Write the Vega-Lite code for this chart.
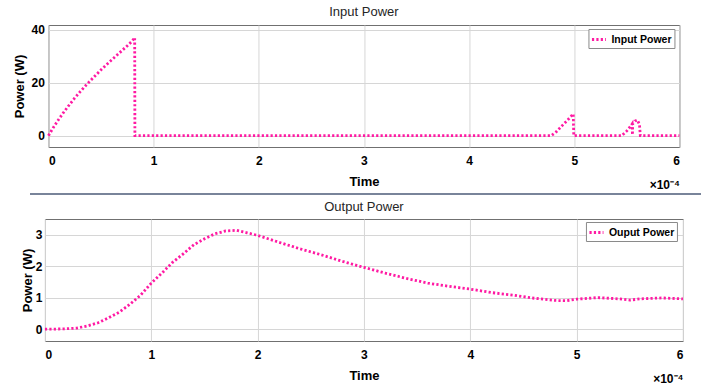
{
  "$schema": "https://vega.github.io/schema/vega-lite/v6.json",
  "background": "white",
  "padding": {"left": 12, "top": 5, "right": 0, "bottom": 0},
  "spacing": 0,
  "center": true,
  "resolve": {"scale": {"color": "independent"}, "legend": {"color": "independent"}},
  "config": {
    "font": "Liberation Sans",
    "view": {"stroke": "#707070", "strokeWidth": 1},
    "axis": {
      "labelFont": "Liberation Sans",
      "labelFontSize": 12,
      "labelFontWeight": "bold",
      "labelColor": "#000000",
      "titleFont": "Liberation Sans",
      "titleFontSize": 13,
      "titleFontWeight": "bold",
      "titleColor": "#000000",
      "gridColor": "#d6d6d6",
      "gridWidth": 1,
      "ticks": false,
      "domain": false,
      "labelPadding": 4
    },
    "axisX": {"labelPadding": 8, "titlePadding": 9},
    "axisY": {"titlePadding": 5},
    "legend": {
      "orient": "none",
      "fillColor": "white",
      "strokeColor": "#8a8a8a",
      "padding": 2,
      "symbolType": "stroke",
      "symbolStrokeWidth": 2.8,
      "symbolDash": [2.2, 2.2],
      "symbolSize": 196,
      "labelFont": "Liberation Sans",
      "labelFontSize": 10.5,
      "labelFontWeight": "bold",
      "labelColor": "#000000",
      "labelOffset": 4
    },
    "title": {"font": "Liberation Sans", "fontSize": 13, "fontWeight": "normal", "color": "#262626", "offset": 5}
  },
  "datasets": {
    "input": [
      {"t": 0, "p": 0}, {"t": 0.05, "p": 3.3}, {"t": 0.1, "p": 6.3}, {"t": 0.15, "p": 9.1},
      {"t": 0.2, "p": 11.7}, {"t": 0.25, "p": 14.2}, {"t": 0.3, "p": 16.5}, {"t": 0.35, "p": 18.7},
      {"t": 0.4, "p": 20.8}, {"t": 0.45, "p": 22.8}, {"t": 0.5, "p": 24.8}, {"t": 0.55, "p": 26.7},
      {"t": 0.6, "p": 28.5}, {"t": 0.65, "p": 30.3}, {"t": 0.7, "p": 32.1}, {"t": 0.75, "p": 33.9},
      {"t": 0.8, "p": 35.8}, {"t": 0.82, "p": 37}, {"t": 0.822, "p": 0}, {"t": 4.78, "p": 0},
      {"t": 4.83, "p": 1.5}, {"t": 4.88, "p": 3.6}, {"t": 4.93, "p": 5.6}, {"t": 4.99, "p": 8.2},
      {"t": 4.995, "p": 0}, {"t": 5.45, "p": 0}, {"t": 5.5, "p": 1.8}, {"t": 5.54, "p": 3.8},
      {"t": 5.55, "p": 4.4}, {"t": 5.553, "p": 0.3}, {"t": 5.556, "p": 4.6}, {"t": 5.58, "p": 5.6},
      {"t": 5.6, "p": 5.9}, {"t": 5.62, "p": 4.2}, {"t": 5.628, "p": 0}, {"t": 6, "p": 0}
    ],
    "output": [
      {"t": 0, "p": 0}, {"t": 0.1, "p": 0}, {"t": 0.2, "p": 0.01}, {"t": 0.3, "p": 0.03},
      {"t": 0.4, "p": 0.1}, {"t": 0.5, "p": 0.2}, {"t": 0.6, "p": 0.36}, {"t": 0.7, "p": 0.54},
      {"t": 0.8, "p": 0.79}, {"t": 0.9, "p": 1.08}, {"t": 1.0, "p": 1.46}, {"t": 1.1, "p": 1.78},
      {"t": 1.2, "p": 2.12}, {"t": 1.3, "p": 2.39}, {"t": 1.4, "p": 2.68}, {"t": 1.5, "p": 2.87},
      {"t": 1.6, "p": 3.03}, {"t": 1.7, "p": 3.12}, {"t": 1.8, "p": 3.14}, {"t": 1.9, "p": 3.06},
      {"t": 2.0, "p": 2.98}, {"t": 2.2, "p": 2.76}, {"t": 2.4, "p": 2.55}, {"t": 2.6, "p": 2.36},
      {"t": 2.8, "p": 2.15}, {"t": 3.0, "p": 1.96}, {"t": 3.2, "p": 1.78}, {"t": 3.4, "p": 1.61},
      {"t": 3.6, "p": 1.46}, {"t": 3.8, "p": 1.36}, {"t": 4.0, "p": 1.27}, {"t": 4.2, "p": 1.16},
      {"t": 4.4, "p": 1.08}, {"t": 4.6, "p": 0.98}, {"t": 4.8, "p": 0.91}, {"t": 4.9, "p": 0.9},
      {"t": 5.0, "p": 0.95}, {"t": 5.2, "p": 1.0}, {"t": 5.4, "p": 0.96}, {"t": 5.5, "p": 0.92},
      {"t": 5.6, "p": 0.96}, {"t": 5.8, "p": 0.99}, {"t": 6.0, "p": 0.96}
    ],
    "separator": [{"p": 0}, {"p": 1}]
  },
  "vconcat": [
    {
      "width": 631,
      "height": 122,
      "title": {"text": "Input Power"},
      "data": {"name": "input"},
      "layer": [
        {
          "mark": {"type": "line", "strokeDash": [2.2, 2.2], "strokeWidth": 2.8, "strokeCap": "butt"},
          "encoding": {
            "x": {"field": "t", "type": "quantitative", "scale": {"domain": [0, 6], "nice": false},
                  "axis": {"title": "Time", "values": [0, 1, 2, 3, 4, 5, 6]}},
            "y": {"field": "p", "type": "quantitative", "scale": {"domain": [-4.26, 41.7], "nice": false, "zero": false},
                  "axis": {"title": "Power (W)", "values": [0, 20, 40]}},
            "color": {"datum": "Input Power", "scale": {"range": ["#ff1aa3"]},
                      "legend": {"title": null, "legendX": 540, "legendY": 4}}
          }
        },
        {
          "mark": {"type": "line", "opacity": 0},
          "encoding": {
            "x": {"field": "t", "type": "quantitative", "scale": {"domain": [0, 6], "nice": false},
                  "axis": {"orient": "bottom", "title": "×10⁻⁴", "labels": false, "grid": false,
                           "titleAnchor": "end", "titlePadding": 32, "titleFontSize": 12}},
            "y": {"field": "p", "type": "quantitative"}
          }
        }
      ],
      "resolve": {"axis": {"x": "independent"}}
    },
    {
      "width": 671,
      "height": 6,
      "view": {"stroke": null},
      "data": {"name": "separator"},
      "mark": {"type": "line", "color": "#4d5b78", "strokeWidth": 1.5},
      "encoding": {
        "x": {"field": "p", "type": "quantitative", "scale": {"domain": [0, 1], "nice": false}, "axis": null},
        "y": {"datum": 1, "type": "quantitative", "scale": {"domain": [0, 1]}, "axis": null}
      }
    },
    {
      "width": 638,
      "height": 122,
      "title": {"text": "Output Power"},
      "data": {"name": "output"},
      "layer": [
        {
          "mark": {"type": "line", "strokeDash": [2.2, 2.2], "strokeWidth": 2.8, "strokeCap": "butt"},
          "encoding": {
            "x": {"field": "t", "type": "quantitative", "scale": {"domain": [0, 6], "nice": false},
                  "axis": {"title": "Time", "values": [0, 1, 2, 3, 4, 5, 6]}},
            "y": {"field": "p", "type": "quantitative", "scale": {"domain": [-0.38, 3.5], "nice": false, "zero": false},
                  "axis": {"title": "Power (W)", "values": [0, 1, 2, 3], "titlePadding": 1, "labelPadding": 3}},
            "color": {"datum": "Ouput Power", "scale": {"range": ["#ff1aa3"]},
                      "legend": {"title": null, "legendX": 541, "legendY": 3}}
          }
        },
        {
          "mark": {"type": "line", "opacity": 0},
          "encoding": {
            "x": {"field": "t", "type": "quantitative", "scale": {"domain": [0, 6], "nice": false},
                  "axis": {"orient": "bottom", "title": "×10⁻⁴", "labels": false, "grid": false,
                           "titleAnchor": "end", "titlePadding": 32, "titleFontSize": 12}},
            "y": {"field": "p", "type": "quantitative"}
          }
        }
      ],
      "resolve": {"axis": {"x": "independent"}}
    }
  ]
}
